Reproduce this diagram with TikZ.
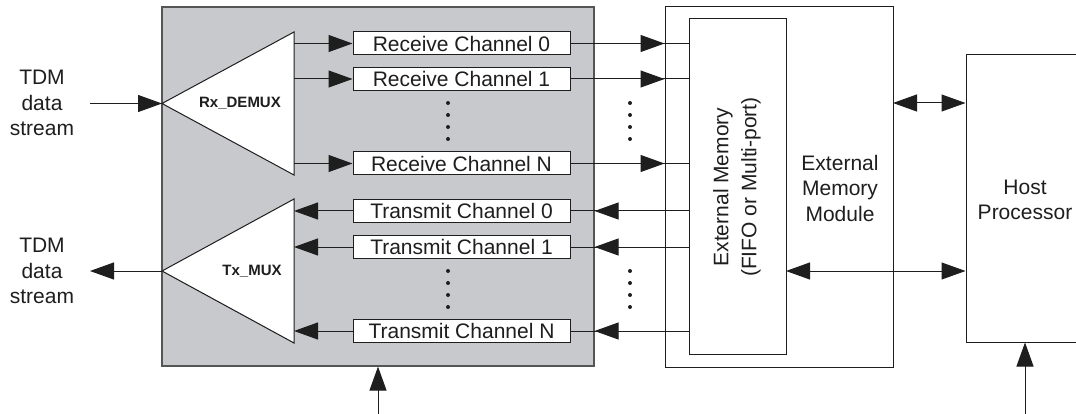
\documentclass[tikz,border=0pt]{standalone}
\usepackage{fontspec}
\setmainfont{Liberation Sans}
\usetikzlibrary{arrows.meta,calc}
\definecolor{panel}{RGB}{200,201,205}
\definecolor{ink}{RGB}{30,30,30}
\definecolor{edge}{RGB}{85,85,85}
\begin{document}
\begin{tikzpicture}[x=1pt,y=-1pt,
  every node/.style={font=\fontsize{21}{25.5}\selectfont, text=ink, align=center, inner sep=0pt},
  chbox/.style={draw=ink, fill=white, line width=1pt, minimum width=217pt, minimum height=23pt},
  wbox/.style={draw=ink, fill=white, line width=1pt},
  arr/.style={draw=ink, line width=1pt, -{Triangle[length=24pt,width=17pt]}},
  darr/.style={draw=ink, line width=1pt, {Triangle[length=24pt,width=17pt]}-{Triangle[length=24pt,width=17pt]}},
  ln/.style={draw=ink, line width=1pt},
  mlabel/.style={font=\bfseries\fontsize{15}{18}\selectfont},
  dotmark/.style={circle, fill=ink, minimum size=4pt, inner sep=0pt}
]
\clip (0,0) rectangle (1076,414);
\fill[white] (0,0) rectangle (1076,414);

% device panel
\node[draw=edge, fill=panel, line width=1.2pt, minimum width=432pt, minimum height=359pt] (dev) at (378,186.5) {};

% triangles
\coordinate (rxtip) at (162,103.5);
\coordinate (rxtop) at (294,32);
\coordinate (rxbot) at (294,175);
\draw[ln, fill=white] (rxtip) -- (rxtop) -- (rxbot) -- cycle;
\node[mlabel] (rxl) at (240,103.5) {Rx\_DEMUX};

\coordinate (txtip) at (162,271);
\coordinate (txtop) at (294,199);
\coordinate (txbot) at (294,343);
\draw[ln, fill=white] (txtip) -- (txtop) -- (txbot) -- cycle;
\node[mlabel] (txl) at (252,271) {Tx\_MUX};

% channel boxes
\node[chbox] (rc0) at (461.5,43.5) {Receive Channel 0};
\node[chbox] (rc1) at (461.5,79) {Receive Channel 1};
\node[chbox] (rcn) at (461.5,163.5) {Receive Channel N};
\node[chbox] (tc0) at (461.5,211) {Transmit Channel 0};
\node[chbox] (tc1) at (461.5,247) {Transmit Channel 1};
\node[chbox] (tcn) at (461.5,331) {Transmit Channel N};

% memory module and host
\node[wbox, minimum width=228pt, minimum height=360pt] (mod) at (779,187) {};
\node[wbox, minimum width=97pt, minimum height=335pt] (mem) at (737.5,186.5) {};
\node[rotate=90, font=\fontsize{21}{28}\selectfont] (memt) at (737,187) {External Memory\\(FIFO or Multi-port)};
\node (modt) at (840,188) {External\\Memory\\Module};
\node[wbox, minimum width=118pt, minimum height=287pt] (host) at (1025,198.5) {};
\node (hostt) at (1025,200) {Host\\Processor};

% TDM labels
\node (tdmin) at (42,103) {TDM\\data\\stream};
\node (tdmout) at (42,271) {TDM\\data\\stream};
\coordinate (inL) at (90,103.5);
\coordinate (outL) at (90,271);
\draw[arr] (inL) -- (rxtip);
\draw[arr] (txtip) -- (outL);

% demux -> receive channels
\foreach \b in {rc0,rc1,rcn}{
  \draw[arr] (\b.west -| rxtop) -- (\b.west);
  \draw[ln] (\b.east) -- (\b.east -| mem.west);
  \draw[arr] (\b.east) -- (\b.east -| mod.west);
}
% transmit channels -> mux
\foreach \b in {tc0,tc1,tcn}{
  \draw[arr] (\b.west) -- (\b.west -| txtop);
  \draw[ln] (\b.east -| mem.west) -- (\b.east);
  \draw[arr] (\b.east -| mem.west) -- (\b.east -| dev.east);
}

% dots
\foreach \y in {103,115,127,139}{
  \node[dotmark] at (448,\y) {};
  \node[dotmark] at (630,\y) {};
}
\foreach \y in {271,283,295,307}{
  \node[dotmark] at (448,\y) {};
  \node[dotmark] at (630,\y) {};
}

% host links
\coordinate (hl1) at (893,103);
\draw[darr] (hl1) -- (hl1 -| host.west);
\coordinate (hl2) at (786,271);
\draw[darr] (hl2) -- (hl2 -| host.west);

% bottom inputs
\coordinate (b1) at (378,414);
\draw[arr] (b1) -- (dev.south);
\coordinate (b2) at (1025,414);
\draw[arr] (b2) -- (host.south);
\end{tikzpicture}
\end{document}
